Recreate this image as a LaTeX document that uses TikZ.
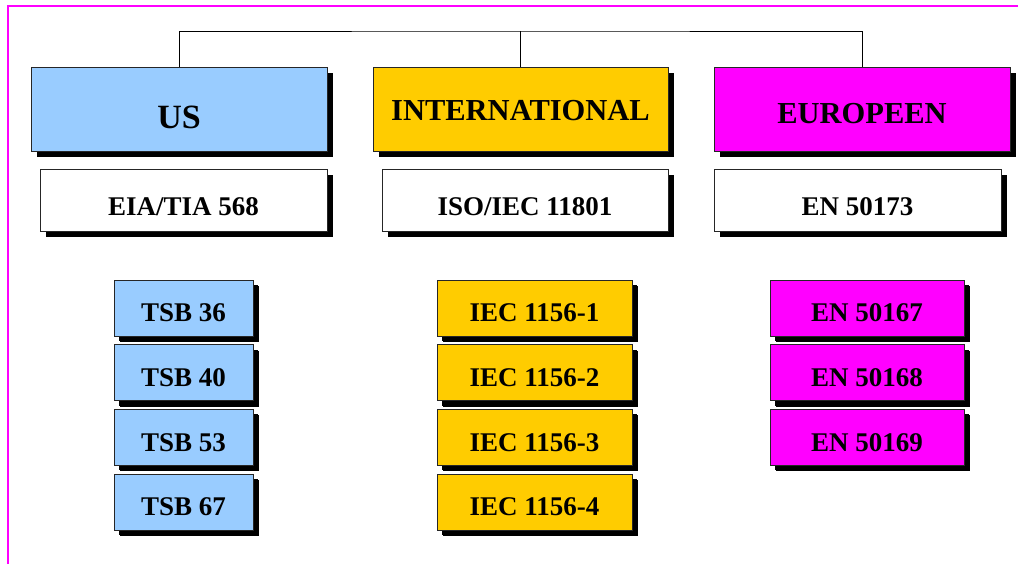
\documentclass[tikz,border=0pt]{standalone}
\usepackage{fontspec}
\setmainfont{Liberation Serif}
\usepackage{xcolor}
\usepackage{tikz}
\usetikzlibrary{shadows, positioning, calc}

\begin{document}
\begin{tikzpicture}[x=1pt, y=-1pt,
  caixa/.style={draw=black!85, line width=0.9pt, font=\bfseries, align=center, inner sep=0pt, text depth=0pt,
    drop shadow={shadow xshift=6pt, shadow yshift=-6pt, opacity=1, fill=black}},
  topo/.style={caixa, minimum width=296pt, minimum height=84pt, font=\bfseries\fontsize{30.5}{34}\selectfont},
  norma/.style={caixa, fill=white, minimum width=287pt, minimum height=62pt, text height=31.5pt,
    font=\bfseries\fontsize{27}{30}\selectfont},
  sub/.style={caixa, minimum height=56pt, text height=27.5pt, font=\bfseries\fontsize{27}{30}\selectfont,
    drop shadow={shadow xshift=5pt, shadow yshift=-5pt, opacity=1, fill=black}}]
% --- ORGANISMOS DE NORMALIZACAO ---
\definecolor{azul}{HTML}{99CCFF}
\definecolor{ouro}{HTML}{FFCC00}
\definecolor{rosa}{HTML}{FF00FF}

\useasboundingbox (0,0) rectangle (1018,564);

% LAYER 0: Moldura
\draw[line width=1.6pt, color=rosa] (8,564) -- (8,6) -- (1018,6);

% LAYER 1: Caixas de topo
\node[topo, fill=azul, text height=39.5pt] (us) at (179,109) {\fontsize{34}{38}\selectfont US};
\node[topo, fill=ouro, minimum width=295pt, text height=22.8pt] (intl) at (520.5,109) {INTERNATIONAL};
\node[topo, fill=rosa, text height=29.6pt] (eu) at (862,109) {EUROPEEN};

% LAYER 2: Ligacao
\coordinate (bus) at (520.5,31);
\draw[line width=0.9pt] (us.north) |- (bus) -| (eu.north);
\draw[line width=0.9pt] (intl.north) -- (bus);

% LAYER 3: Normas principais
\node[norma] (eia) at (183.5,200) {EIA/TIA 568};
\node[norma, minimum width=286pt] (iso) at (525,200) {ISO/IEC 11801};
\node[norma] (en) at (857.5,200) {EN 50173};

% LAYER 4: Documentos complementares
\foreach \n [count=\i from 0] in {36, 40, 53, 67}
  \node[sub, fill=azul, minimum width=139pt] (tsb\n) at (183.5,308+64.7*\i) {TSB \n};
\foreach \n [count=\i from 0] in {1, 2, 3, 4}
  \node[sub, fill=ouro, minimum width=195pt] (iec\n) at (534.5,308+64.7*\i) {IEC 1156-\n};
\foreach \n [count=\i from 0] in {50167, 50168, 50169}
  \node[sub, fill=rosa, minimum width=194pt] (en\n) at (867,308+64.7*\i) {EN \n};
\end{tikzpicture}
\end{document}
